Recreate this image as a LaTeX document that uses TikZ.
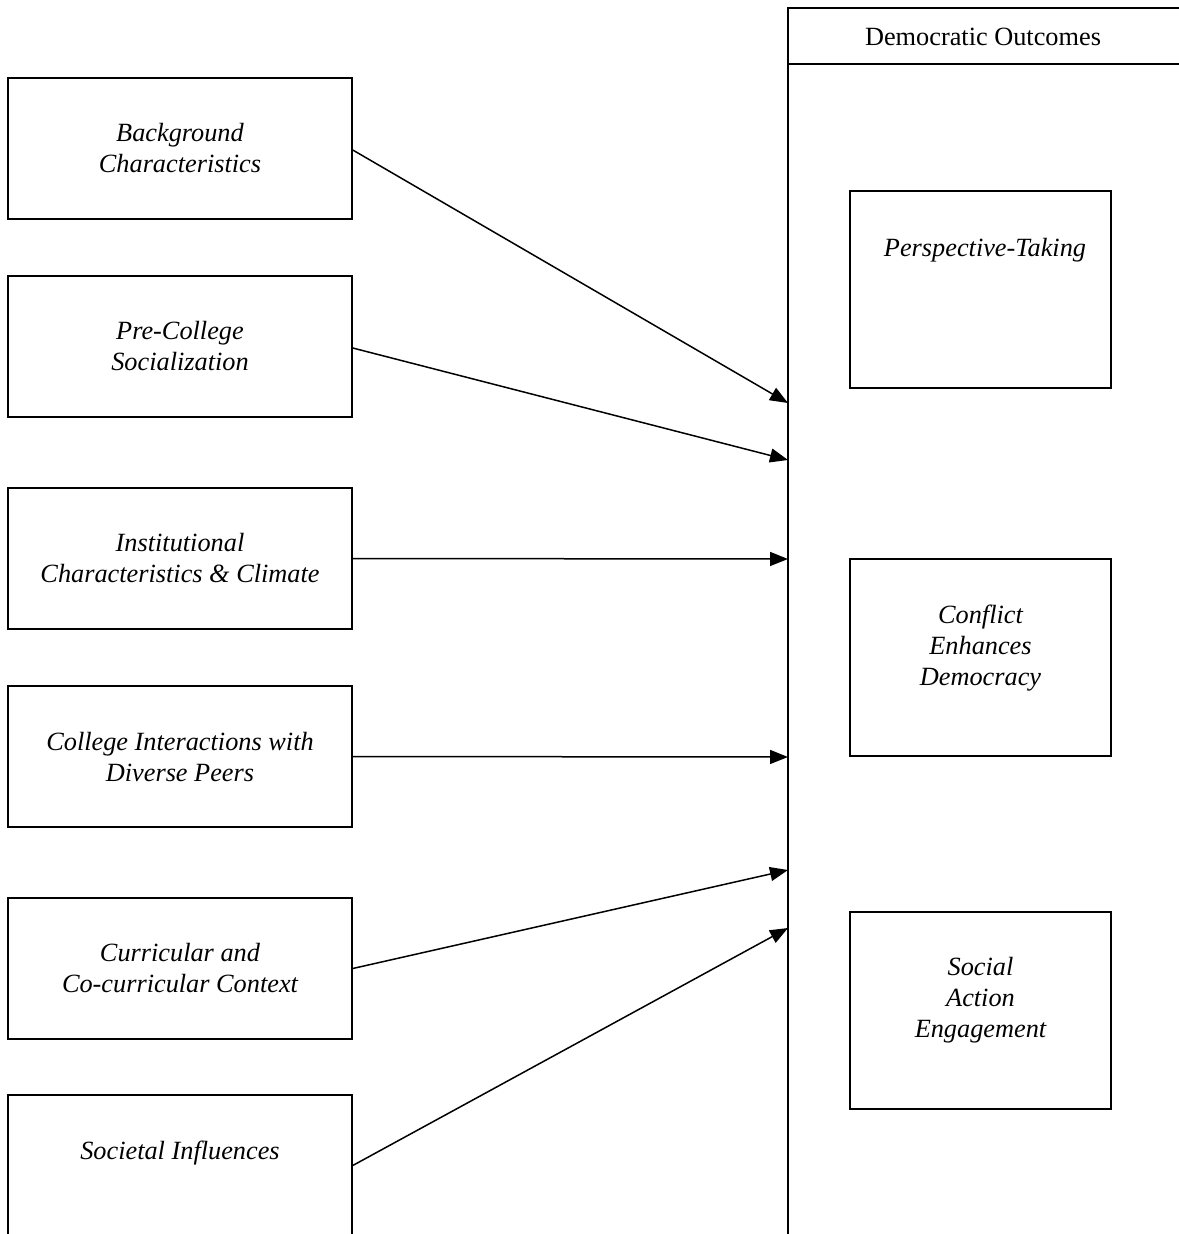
\documentclass[tikz,border=0pt]{standalone}
\usepackage{fontspec}
\setmainfont{Liberation Serif}
\usetikzlibrary{arrows.meta}
\begin{document}
\begin{tikzpicture}[x=1pt,y=-1pt,
  box/.style={draw,line width=1.5pt,minimum width=344pt,minimum height=141pt,inner sep=0pt,align=center,font=\fontsize{26.3}{31}\selectfont\itshape},
  obox/.style={draw,line width=1.5pt,minimum width=261pt,minimum height=197pt,inner sep=0pt},
  lbl/.style={align=center,inner sep=0pt,font=\fontsize{26.3}{31}\selectfont\itshape},
  conn/.style={line width=1.5pt,-{Triangle[length=18pt,width=14pt]}}]
\useasboundingbox (0,0) rectangle (1178,1234);
% outer frame
\coordinate (ftr) at (1180,8);
\coordinate (ftl) at (788,8);
\coordinate (fbl) at (788,1236);
\coordinate (hl) at (788,64);
\coordinate (hr) at (1180,64);
\draw[line width=1.5pt] (ftr) -- (ftl) -- (fbl);
\draw[line width=1.5pt] (hl) -- (hr);
\node[inner sep=0pt,font=\fontsize{26.3}{31}\selectfont] (hdr) at (983,37) {Democratic Outcomes};
% left boxes
\node[box] (b1) at (180,148.5) {Background\\Characteristics};
\node[box] (b2) at (180,346.5) {Pre-College\\Socialization};
\node[box] (b3) at (180,558.5) {Institutional\\Characteristics \& Climate};
\node[box] (b4) at (180,756.5) {College Interactions with\\Diverse Peers};
\node[box] (b5) at (180,968.5) {Curricular and\\Co-curricular Context};
\node[box] (b6) at (180,1165.5) {};
\node[lbl] (t6) at (180,1153) {Societal Influences};
% right boxes
\node[obox] (r1) at (980.5,289.5) {};
\node[lbl] (rt1) at (985,250) {Perspective-Taking};
\node[obox] (r2) at (980.5,657.5) {};
\node[lbl] (rt2) at (980.5,648) {Conflict\\Enhances\\Democracy};
\node[obox] (r3) at (980.5,1010.5) {};
\node[lbl] (rt3) at (980.5,1000) {Social\\Action\\Engagement};
% arrow targets
\coordinate (e1) at (788,403);
\coordinate (e2) at (788,460);
\coordinate (e3) at (788,559);
\coordinate (e4) at (788,757);
\coordinate (e5) at (788,870);
\coordinate (e6) at (788,928);
\draw[conn] (b1.east) ++(0,1.5) coordinate (s1) (s1) -- (e1);
\draw[conn] (b2.east) ++(0,1.5) coordinate (s2) (s2) -- (e2);
\draw[conn] (b3.east) -- (e3);
\draw[conn] (b4.east) -- (e4);
\draw[conn] (b5.east) -- (e5);
\draw[conn] (b6.east) -- (e6);
\end{tikzpicture}
\end{document}
